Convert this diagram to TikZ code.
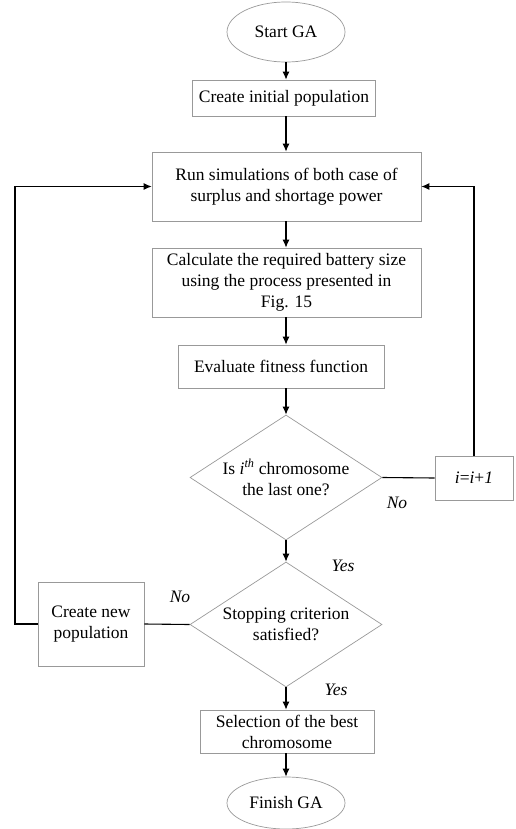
\documentclass[tikz,border=0pt]{standalone}
\usepackage{fontspec}
\setmainfont{Liberation Serif}
\usetikzlibrary{shapes.geometric,arrows.meta}
\begin{document}
\begin{tikzpicture}[x=1pt,y=-1pt,
  font=\fontsize{17.5}{21}\selectfont,
  box/.style={draw=black!40,line width=0.7pt,rectangle,align=center,inner sep=0pt},
  oval/.style={draw=black!40,line width=0.7pt,ellipse,inner sep=0pt},
  decision/.style={draw=black!40,line width=0.7pt,diamond,aspect=1.536,align=center,inner sep=0pt},
  conn/.style={line width=1.1pt,black},
  arr/.style={conn,-{Latex[length=8pt,width=7pt]}},
  lbl/.style={font=\fontsize{17.5}{21}\selectfont\itshape}]
\useasboundingbox (0,0) rectangle (516,829);
\node[oval,minimum width=118pt,minimum height=60pt] (start) at (286,32) {Start GA};
\node[box,minimum width=183pt,minimum height=36pt] (init) at (284,98) {Create initial population};
\node[box,minimum width=269pt,minimum height=69pt] (run) at (286.5,186.5) {Run simulations of both case of\\surplus and shortage power};
\node[box,minimum width=269pt,minimum height=69pt] (calc) at (286.5,282.5) {Calculate the required battery size\\using the process presented in\\Fig. 15};
\node[box,minimum width=206pt,minimum height=43pt] (eval) at (281,366.5) {Evaluate fitness function};
\node[decision,minimum width=192pt,minimum height=125pt] (dec1) at (286,477.5) {Is \textit{i\textsuperscript{th}} chromosome\\the last one?};
\node[box,minimum width=78pt,minimum height=44pt] (inc) at (474,478) {\textit{i}=\textit{i}+\textit{1}};
\node[decision,minimum width=192pt,minimum height=125pt] (dec2) at (286,624.5) {Stopping criterion\\satisfied?};
\node[box,minimum width=106pt,minimum height=84pt] (newpop) at (91,624) {Create new\\population};
\node[box,minimum width=174pt,minimum height=43pt] (sel) at (287,731.5) {Selection of the best\\chromosome};
\node[oval,minimum width=118pt,minimum height=52pt] (finish) at (286,803) {Finish GA};
\coordinate (lc) at (15,186.5);
\draw[arr] (start.south) -- (start.south |- init.north);
\draw[arr] (init.south -| start.south) -- (start.south |- run.north);
\draw[arr] (run.south -| start.south) -- (start.south |- calc.north);
\draw[arr] (calc.south -| start.south) -- (start.south |- eval.north);
\draw[arr] (eval.south -| start.south) -- (dec1.north);
\draw[arr] (dec1.south) -- (dec2.north);
\draw[arr] (dec2.south) -- (dec2.south |- sel.north);
\draw[arr] (sel.south -| start.south) -- (finish.north);
\draw[conn] (dec1.east) -- (inc.west);
\draw[arr] (inc.north) |- (run.east);
\draw[conn] (dec2.west) -- (newpop.east);
\draw[arr] (newpop.west) -| (lc) -- (run.west);
\node[lbl] (no1) at (397,503) {No};
\node[lbl] (yes1) at (343,566) {Yes};
\node[lbl] (no2) at (180,597) {No};
\node[lbl] (yes2) at (336,690) {Yes};
\end{tikzpicture}
\end{document}
